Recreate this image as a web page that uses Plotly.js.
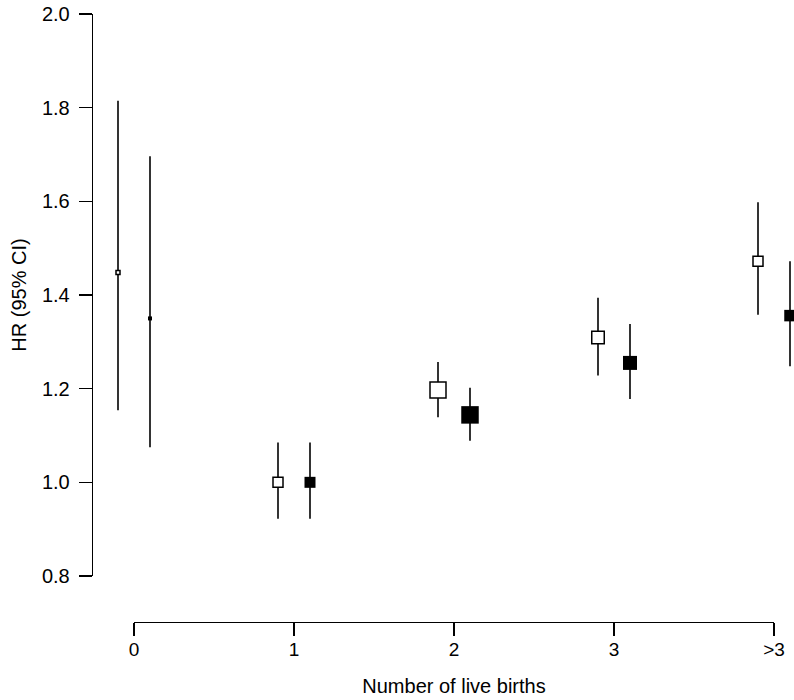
<!DOCTYPE html>
<html>
<head>
<meta charset="utf-8">
<script src="https://cdn.plot.ly/plotly-3.0.1.min.js"></script>
<style>html,body{margin:0;padding:0;background:#fff;}#chart{width:794px;height:700px;}</style>
</head>
<body>
<div id="chart"></div>
<script>
// Data
var categories = ["0", "1", "2", "3", ">3"];
var hrOpen      = [1.448, 1.000, 1.197, 1.309, 1.472];
var ciLowOpen   = [1.154, 0.922, 1.139, 1.228, 1.358];
var ciHighOpen  = [1.815, 1.085, 1.257, 1.394, 1.598];
var hrFilled     = [1.350, 1.000, 1.144, 1.255, 1.356];
var ciLowFilled  = [1.075, 0.922, 1.089, 1.178, 1.248];
var ciHighFilled = [1.696, 1.085, 1.202, 1.338, 1.472];
var weightOpen   = [4, 10, 16, 12.5, 10];
var weightFilled = [4, 11, 17.5, 14, 11.5];
var yTicks = [0.8, 1.0, 1.2, 1.4, 1.6, 1.8, 2.0];

var idx = categories.map(function(c, i){ return i; });
var offset = 0.1;
function minus(a, b){ return a.map(function(v,i){ return +(v - b[i]).toFixed(4); }); }

var fontFam = "Liberation Sans, Arial, Helvetica, sans-serif";

// invisible trace so the category axis (x2) is drawn
var traceAxis = {
  type: "scatter", mode: "markers", xaxis: "x2", yaxis: "y",
  x: idx, y: hrOpen,
  marker: {opacity: 0, size: 1},
  showlegend: false, hoverinfo: "none"
};
var traceOpen = {
  type: "scatter", mode: "markers",
  x: idx.map(function(i){ return i - offset; }),
  y: hrOpen,
  cliponaxis: false,
  error_y: {type: "data", symmetric: false,
    array: minus(ciHighOpen, hrOpen), arrayminus: minus(hrOpen, ciLowOpen),
    color: "#000", thickness: 1.6, width: 0},
  marker: {symbol: "square", size: weightOpen, color: "#fff", opacity: 1, line: {color: "#000", width: 1.5}},
  showlegend: false, hoverinfo: "none"
};
var traceFilled = {
  type: "scatter", mode: "markers",
  x: idx.map(function(i){ return i + offset; }),
  y: hrFilled,
  cliponaxis: false,
  error_y: {type: "data", symmetric: false,
    array: minus(ciHighFilled, hrFilled), arrayminus: minus(hrFilled, ciLowFilled),
    color: "#000", thickness: 1.6, width: 0},
  marker: {symbol: "square", size: weightFilled, color: "#000", opacity: 1, line: {color: "#000", width: 0}},
  showlegend: false, hoverinfo: "none"
};

// Pixel layout: plot area x 93..794, y 14..622
var plotL = 93, plotR = 794, plotT = 14, plotB = 622;
var x0px = 134, stepPx = 160;
var xr = [(plotL - x0px) / stepPx, (plotR - x0px) / stepPx];
var pw = plotR - plotL;
var ph = plotB - plotT;

var layout = {
  width: 794, height: 700,
  margin: {l: plotL, r: 794 - plotR, t: plotT, b: 700 - plotB, pad: 0},
  paper_bgcolor: "#fff", plot_bgcolor: "rgba(0,0,0,0)",
  font: {family: fontFam, color: "#000", size: 20},
  xaxis: {
    range: xr, domain: [0, 1],
    showline: false, showgrid: false, zeroline: false,
    showticklabels: false, ticks: "", fixedrange: true
  },
  xaxis2: {
    range: [0, categories.length - 1],
    domain: [(x0px - plotL) / pw, (x0px + stepPx * (categories.length - 1) - plotL) / pw],
    anchor: "free", position: 0,
    showline: true, linecolor: "#000", linewidth: 1.3,
    ticks: "outside", ticklen: 13, tickwidth: 1.3, tickcolor: "#000",
    tickvals: idx, ticktext: categories,
    ticklabelstandoff: -3,
    tickfont: {size: 19, family: fontFam},
    showgrid: false, zeroline: false,
    title: {text: "Number of live births", font: {size: 20, family: fontFam}, standoff: 20}
  },
  yaxis: {
    range: [0.8, 2.0],
    domain: [(plotB - 576) / ph, 1],
    showline: true, linecolor: "#000", linewidth: 1.3,
    ticks: "outside", ticklen: 13, tickwidth: 1.3, tickcolor: "#000",
    tickvals: yTicks, tickformat: ".1f",
    ticklabelstandoff: 5,
    tickfont: {size: 20, family: fontFam},
    showgrid: false, zeroline: false,
    title: {text: "HR (95% CI)", font: {size: 20, family: fontFam}, standoff: 10}
  }
};

Plotly.newPlot("chart", [traceAxis, traceOpen, traceFilled], layout, {displayModeBar: false, staticPlot: true});
</script>
</body>
</html>
